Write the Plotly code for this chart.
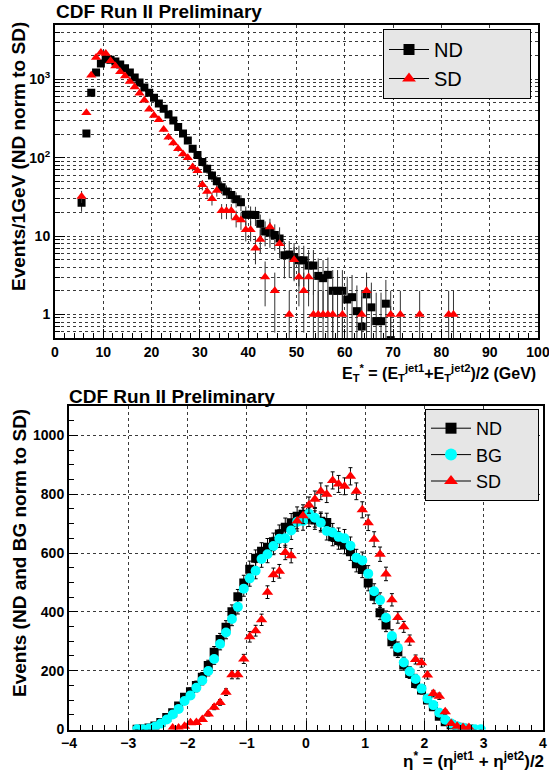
import numpy as np
import plotly.graph_objects as go

# ---------------- top panel: E_T* distribution (log scale) ----------------
ET_ND_X = [5.5, 6.5, 7.5, 8.5, 9.5, 10.5, 11.5, 12.5, 13.5, 14.5, 15.5, 16.5, 17.5, 18.5, 19.5,
           20.5, 21.5, 22.5, 23.5, 24.5, 25.5, 26.5, 27.5, 28.5, 29.5, 30.5, 31.5, 32.5, 33.5,
           34.5, 35.5, 36.5, 37.5, 38.5, 39.5, 40.5, 41.5, 42.5, 43.5, 44.5, 45.5, 46.5, 47.5,
           48.5, 49.5, 50.5, 51.5, 52.5, 53.5, 54.5, 55.5, 56.5, 57.5, 58.5, 59.5, 60.5, 61.5,
           62.5, 63.5, 64.5, 65.5, 66.5, 67.5, 68.5, 69.5]
ET_ND_Y = [26.5, 203, 674, 1218, 1590, 1800, 1770, 1680, 1540, 1380, 1220, 1050, 910, 785, 675,
           580, 492, 420, 355, 298, 247, 203, 165, 130, 108, 88, 72, 59, 50,
           42, 37, 33.5, 29.5, 27, 18.7, 18.7, 18.5, 14.3, 11.4, 11, 10.3, 9.3, 5.7,
           5.8, 5.4, 4.9, 4.9, 4.2, 4.2, 3.1, 2.9, 3.2, 2.0, 2.0, 2.0, 1.55, 1.66,
           1.1, 0.7, 1.8, 1.23, 0.82, 0.82, 1.37, 0.47]

ET_SD_X = [5.5, 6.5, 7.5, 8.5, 9.5, 10.5, 11.5, 12.5, 13.5, 14.5, 15.5, 16.5, 17.5, 18.5, 19.5,
           20.5, 21.5, 22.5, 23.5, 24.5, 25.5, 26.5, 27.5, 28.5, 29.5, 30.5, 31.5, 32.5, 33.5,
           34.5, 35.5, 36.5, 37.5, 38.5, 39.5, 40.5, 41.5, 42.5, 43.5, 44.5, 45.5, 46.5,
           48.5, 49.5, 50.5, 51.5, 52.5, 53.5, 54.5, 55.5, 56.5, 57.5, 59.5, 63.5, 64.5,
           69.5, 71.5, 75.5, 81.5, 82.5]
ET_SD_Y = [32, 374, 1125, 1900, 2200, 2130, 1720, 1480, 1250, 1100, 934, 800, 665, 540, 415,
           346, 304, 229, 182, 154, 130, 111, 100, 76, 68, 45, 37, 30, 38,
           21, 21, 21, 17, 16, 12, 12, 7, 9, 3, 13, 2, 8,
           1, 5, 3, 2, 3, 1, 1, 1, 1, 1, 1, 1, 2,
           1, 1, 1, 1, 1]

# ---------------- bottom panel: eta* distribution ----------------
ETA_ND_X = [-2.85, -2.75, -2.65, -2.55, -2.45, -2.35, -2.25, -2.15, -2.05, -1.95,
            -1.85, -1.75, -1.65, -1.55, -1.45, -1.35, -1.25, -1.15, -1.05, -0.95,
            -0.85, -0.75, -0.65, -0.55, -0.45, -0.35, -0.25, -0.15, -0.05,
            0.05, 0.15, 0.25, 0.35, 0.45, 0.55, 0.65, 0.75, 0.85, 0.95,
            1.05, 1.15, 1.25, 1.35, 1.45, 1.55, 1.65, 1.75, 1.85, 1.95,
            2.05, 2.15, 2.25, 2.35, 2.45, 2.55, 2.65, 2.75]
ETA_ND_Y = [1, 2, 5, 12, 24, 41, 57, 80, 110, 128,
            150, 178, 218, 263, 306, 348, 400, 451, 498, 545,
            582, 606, 620, 638, 665, 688, 703, 725, 732,
            722, 712, 708, 704, 655, 643, 627, 604, 564, 544,
            498, 453, 397, 355, 298, 264, 219, 190, 156, 134,
            100, 77, 45, 26, 15, 8, 4, 2]

ETA_BG_X = [-2.85, -2.75, -2.65, -2.55, -2.45, -2.35, -2.25, -2.15, -2.05, -1.95,
            -1.85, -1.75, -1.65, -1.55, -1.45, -1.35, -1.25, -1.15, -1.05, -0.95,
            -0.85, -0.75, -0.65, -0.55, -0.45, -0.35, -0.25, -0.15, -0.05,
            0.05, 0.15, 0.25, 0.35, 0.45, 0.55, 0.65, 0.75, 0.85, 0.95,
            1.05, 1.15, 1.25, 1.35, 1.45, 1.55, 1.65, 1.75, 1.85, 1.95,
            2.05, 2.15, 2.25, 2.35, 2.45, 2.55, 2.65, 2.75, 2.85, 2.95]
ETA_BG_Y = [1, 1, 3, 9, 20, 34, 51, 70, 97, 116,
            142, 167, 199, 240, 291, 330, 376, 417, 479, 514,
            540, 580, 596, 624, 649, 650, 677, 706, 709,
            734, 720, 703, 675, 670, 655, 650, 625, 584, 575,
            530, 470, 440, 380, 318, 278, 228, 197, 172, 139,
            105, 83, 57, 33, 20, 11, 6, 2, 1, 1]

ETA_SD_X = [-2.25, -2.15, -2.05, -1.95,
            -1.85, -1.75, -1.65, -1.55, -1.45, -1.35, -1.25, -1.15, -1.05, -0.95,
            -0.85, -0.75, -0.65, -0.55, -0.45, -0.35, -0.25, -0.15, -0.05,
            0.05, 0.15, 0.25, 0.35, 0.45, 0.55, 0.65, 0.75, 0.85, 0.95,
            1.05, 1.15, 1.25, 1.35, 1.45, 1.55, 1.65, 1.75, 1.85, 1.95,
            2.05, 2.15, 2.25, 2.35, 2.45, 2.55, 2.65, 2.75]
ETA_SD_Y = [5, 5, 11, 23,
            24, 34, 53, 76, 92, 127, 186, 186, 240, 315,
            336, 373, 467, 526, 538, 602, 591, 709, 727,
            763, 783, 810, 800, 847, 835, 827, 861, 810, 747,
            703, 647, 596, 529, 441, 381, 349, 304, 238, 227,
            185, 122, 113, 60, 20, 11, 7, 7]

# normalisation factor applied to ND/BG counts (used for Poisson errors)
ND_NORM = 1.4

W, H = 549, 773
FONT = "Liberation Sans"
GRID = "#3a3a3a"


def perr(vals, scale=1.0):
    return [float(np.sqrt(scale * v)) for v in vals]


def px_x(p):
    return p / W


def px_y(p):
    return 1 - p / H


fig = go.Figure()

# top panel traces
fig.add_trace(go.Scatter(
    x=ET_ND_X, y=ET_ND_Y, mode="markers", xaxis="x", yaxis="y", showlegend=False,
    marker=dict(symbol="square", size=8, color="black"),
    error_y=dict(type="data", array=perr(ET_ND_Y, ND_NORM), color="#333333", thickness=1, width=0)))
fig.add_trace(go.Scatter(
    x=ET_SD_X, y=ET_SD_Y, mode="markers", xaxis="x", yaxis="y", showlegend=False,
    marker=dict(symbol="triangle-up", size=9, color="red"),
    error_y=dict(type="data", array=perr(ET_SD_Y), color="#333333", thickness=1, width=0)))

# bottom panel traces
fig.add_trace(go.Scatter(
    x=ETA_ND_X, y=ETA_ND_Y, mode="markers", xaxis="x2", yaxis="y2", showlegend=False,
    marker=dict(symbol="square", size=9, color="black"),
    error_y=dict(type="data", array=perr(ETA_ND_Y, ND_NORM), color="black", thickness=1, width=2)))
fig.add_trace(go.Scatter(
    x=ETA_BG_X, y=ETA_BG_Y, mode="markers", xaxis="x2", yaxis="y2", showlegend=False,
    marker=dict(symbol="circle", size=10, color="#00ffff"),
    error_y=dict(type="data", array=perr(ETA_BG_Y, ND_NORM), color="black", thickness=1, width=2)))
fig.add_trace(go.Scatter(
    x=ETA_SD_X, y=ETA_SD_Y, mode="markers", xaxis="x2", yaxis="y2", showlegend=False,
    marker=dict(symbol="triangle-up", size=10, color="red"),
    error_y=dict(type="data", array=perr(ETA_SD_Y), color="black", thickness=1, width=2)))

# legend entries (line + marker, as in ROOT)
pad_top = "\u00a0" * 11
pad_bot = "\u00a0" * 6
for name, sym, col, sz, leg, ax, pad in [
    ("ND", "square", "black", 11, "legend", ("x", "y"), pad_top),
    ("SD", "triangle-up", "red", 12, "legend", ("x", "y"), pad_top),
    ("ND", "square", "black", 11, "legend2", ("x2", "y2"), pad_bot),
    ("BG", "circle", "#00ffff", 12, "legend2", ("x2", "y2"), pad_bot),
    ("SD", "triangle-up", "red", 12, "legend2", ("x2", "y2"), pad_bot),
]:
    fig.add_trace(go.Scatter(
        x=[None], y=[None], xaxis=ax[0], yaxis=ax[1], name=name + pad, legend=leg,
        mode="lines+markers", line=dict(color="black", width=1),
        marker=dict(symbol=sym, size=sz, color=col)))

tickfont = dict(family=FONT, size=14, color="black", weight="bold")
common = dict(ticks="inside", tickcolor="black", tickwidth=1, showline=True, linecolor="black",
              linewidth=2, mirror=True, showgrid=True, gridcolor=GRID, griddash="dot",
              gridwidth=1, zeroline=False, tickfont=tickfont, automargin=False,
              ticklabeloverflow="allow")

minor_log = [m * 10 ** d for d in range(-1, 4) for m in range(2, 10) if 0.5 <= m * 10 ** d <= 5000]

fig.update_layout(
    width=W, height=H, margin=dict(l=0, r=0, t=0, b=0, pad=0, autoexpand=False),
    paper_bgcolor="white", plot_bgcolor="white",
    font=dict(family=FONT, color="black"),
    xaxis=dict(domain=[px_x(55), px_x(538)], anchor="y", range=[0, 100], dtick=10, tick0=0,
               ticklen=9, minor=dict(dtick=2, tick0=0, ticks="inside", ticklen=5,
                                     tickcolor="black", showgrid=False), **common),
    yaxis=dict(domain=[px_y(338), px_y(24.5)], anchor="x", type="log",
               range=[np.log10(0.5), np.log10(5000)],
               tickvals=[1, 10, 100, 1000], ticktext=["1", "10", "10<sup>2</sup>", "10<sup>3</sup>"],
               ticklen=10,
               minor=dict(tickmode="array", tickvals=minor_log, ticks="inside", ticklen=5,
                          tickcolor="black", showgrid=True, gridcolor=GRID, griddash="dot"),
               **common),
    xaxis2=dict(domain=[px_x(69), px_x(543)], anchor="y2", range=[-4, 4], dtick=1, tick0=0,
                ticklen=9, minor=dict(dtick=0.2, tick0=0, ticks="inside", ticklen=5,
                                      tickcolor="black", showgrid=False), **common),
    yaxis2=dict(domain=[px_y(729.5), px_y(406)], anchor="x2", range=[0, 1100], dtick=200, tick0=0,
                ticklen=9, minor=dict(dtick=50, tick0=0, ticks="inside", ticklen=5,
                                      tickcolor="black", showgrid=False), **common),
    legend=dict(x=px_x(531), xanchor="right", y=px_y(29), yanchor="top", bgcolor="#e6e6e6",
                bordercolor="black", borderwidth=1, itemwidth=40, tracegroupgap=0,
                font=dict(family=FONT, size=20, color="black")),
    legend2=dict(x=px_x(539), xanchor="right", y=px_y(409), yanchor="top", bgcolor="#e6e6e6",
                 bordercolor="black", borderwidth=1, itemwidth=40, tracegroupgap=0,
                 font=dict(family=FONT, size=18, color="black")),
)

title_font = dict(family=FONT, size=19, color="black")
ann = [
    dict(text="<b>CDF Run II Preliminary</b>", x=px_x(54), y=px_y(12), xanchor="left",
         yanchor="middle", font=title_font),
    dict(text="<b>CDF Run II Preliminary</b>", x=px_x(67), y=px_y(397), xanchor="left",
         yanchor="middle", font=title_font),
    dict(text="<b>Events/1GeV (ND norm to SD)</b>", x=px_x(18), y=px_y(157), textangle=-90,
         xanchor="center", yanchor="middle", font=title_font),
    dict(text="<b>Events (ND and BG norm to SD)</b>", x=px_x(19), y=px_y(553), textangle=-90,
         xanchor="center", yanchor="middle", font=title_font),
    dict(text="<b>E<sub>T</sub><sup>*</sup> = (E<sub>T</sub><sup>jet1</sup>+E<sub>T</sub><sup>jet2</sup>)/2 (GeV)</b>",
         x=px_x(538), y=px_y(386), xanchor="right", yanchor="bottom",
         font=dict(family=FONT, size=16, color="black")),
    dict(text="<b>\u03b7<sup>*</sup> = (\u03b7<sup>jet1</sup> + \u03b7<sup>jet2</sup>)/2</b>",
         x=px_x(546), y=0, xanchor="right", yanchor="bottom",
         font=dict(family=FONT, size=17, color="black")),
]
for a in ann:
    a.update(xref="paper", yref="paper", showarrow=False)
fig.update_layout(annotations=ann)

fig.write_html("out.html", config={"displayModeBar": False},
               post_script="document.body.style.margin='0';")
